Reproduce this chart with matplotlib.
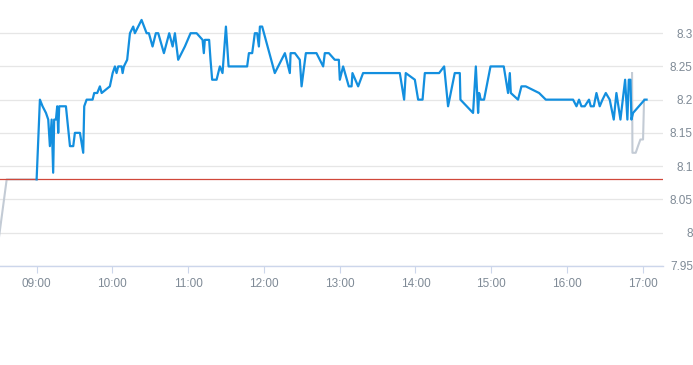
import matplotlib
matplotlib.use("Agg")
from matplotlib import pyplot as plt
from matplotlib import font_manager

# Intraday price, minutes after 09:00
blue_minutes = [0, 2.6, 4.7, 7.4, 9.2, 10.5, 11.9, 13.1, 13.9, 15.3, 16.3, 17.1, 17.9, 23.2, 26.4,
                29.0, 30.3, 34.3, 36.9, 37.7, 39.6, 44.3, 45.6, 48.0, 50.1, 51.5, 58.0, 60.2, 62.0,
                63.3, 64.6, 67.3, 68.1, 69.1, 71.7, 73.9, 76.5, 77.8, 83.1, 87.1, 88.9, 91.8, 94.4,
                96.3, 100.8, 105.0, 107.7, 109.5, 112.1, 117.4, 121.9, 126.7, 131.4, 132.4, 133.2,
                136.6, 137.7, 139.0, 142.5, 145.1, 147.2, 149.9, 152.0, 166.7, 168.1, 170.7, 172.8,
                174.6, 176.0, 176.8, 178.6, 188.6, 196.6, 200.5, 201.1, 204.5, 208.4, 209.8, 213.2,
                221.6, 226.9, 228.2, 231.4, 236.1, 239.3, 240.1, 242.7, 247.2, 249.4, 250.1, 254.6,
                258.5, 287.6, 291.0, 292.3, 299.5, 302.1, 305.6, 307.4, 318.7, 322.7, 325.8, 331.1,
                335.1, 335.6, 345.6, 347.8, 349.6, 350.4, 351.7, 354.3, 359.4, 369.9, 373.3, 374.7,
                375.5, 381.2, 383.9, 387.3, 397.9, 403.2, 424.8, 427.5, 429.5, 431.4, 434.0, 437.4,
                438.8, 441.2, 443.3, 445.9, 448.1, 450.7, 453.8, 457.0, 459.1, 462.3, 466.0, 467.8,
                468.9, 470.2, 471.0, 472.3, 481.5, 483.0]
blue_prices = [8.08, 8.20, 8.19, 8.18, 8.17, 8.13, 8.17, 8.09, 8.17, 8.17, 8.19, 8.15, 8.19, 8.19, 8.13,
               8.13, 8.15, 8.15, 8.12, 8.19, 8.20, 8.20, 8.21, 8.21, 8.22, 8.21, 8.22, 8.24, 8.25,
               8.24, 8.25, 8.25, 8.24, 8.25, 8.26, 8.30, 8.31, 8.30, 8.32, 8.30, 8.30, 8.28, 8.30,
               8.30, 8.27, 8.30, 8.28, 8.30, 8.26, 8.28, 8.30, 8.30, 8.29, 8.27, 8.29,
               8.29, 8.26, 8.23, 8.23, 8.25, 8.24, 8.31, 8.25, 8.25, 8.27, 8.27, 8.30,
               8.30, 8.28, 8.31, 8.31, 8.24, 8.27, 8.24, 8.27, 8.27, 8.26, 8.22, 8.27,
               8.27, 8.25, 8.27, 8.27, 8.26, 8.26, 8.23, 8.25, 8.22, 8.22, 8.24, 8.22,
               8.24, 8.24, 8.20, 8.24, 8.23, 8.20, 8.20, 8.24, 8.24, 8.25, 8.19, 8.24,
               8.24, 8.20, 8.18, 8.25, 8.18, 8.21, 8.20, 8.20, 8.25, 8.25, 8.21, 8.24,
               8.21, 8.20, 8.22, 8.22, 8.21, 8.20, 8.20, 8.19, 8.20, 8.19, 8.19, 8.20,
               8.19, 8.19, 8.21, 8.19, 8.20, 8.21, 8.20, 8.17, 8.21, 8.17, 8.23, 8.17,
               8.23, 8.23, 8.17, 8.18, 8.20, 8.20]

# Pre-open and closing auction segments
pre_minutes = [-30, -23.7, 0]
pre_prices = [7.99, 8.08, 8.08]
post_minutes = [471.5, 471.8, 474.4, 476.2, 478.1, 480.2, 481.0]
post_prices = [8.24, 8.12, 8.12, 8.13, 8.14, 8.14, 8.20]

prev_close = 8.08

y_ticks = [7.95, 8.0, 8.05, 8.1, 8.15, 8.2, 8.25, 8.3]
y_labels = ["7.95", "8", "8.05", "8.1", "8.15", "8.2", "8.25", "8.3"]
x_hours = [9, 10, 11, 12, 13, 14, 15, 16, 17]
x_labels = [f"{h:02d}:00" for h in x_hours]

names = {f.name for f in font_manager.fontManager.ttflist}
family = "Liberation Sans Narrow" if "Liberation Sans Narrow" in names else "Liberation Sans"
plt.rcParams["font.family"] = [family, "DejaVu Sans"]

fig = plt.figure(figsize=(6.93, 3.65), dpi=100)
ax = fig.add_axes([0.0, 0.272, 663 / 693, 0.728])

to_x = lambda mins: [540 + m for m in mins]

ax.plot(to_x(pre_minutes), pre_prices, color="#c3cbd5", lw=1.5, zorder=2)
ax.plot(to_x(post_minutes), post_prices, color="#c3cbd5", lw=1.5, zorder=2)
ax.plot(to_x(blue_minutes), blue_prices, color="#138fdf", lw=1.6, zorder=3)
ax.axhline(prev_close, color="#d0473a", lw=0.9, zorder=2.5)

ax.set_xlim(511, 1036)
ax.set_ylim(7.95, 8.35)

ax.set_yticks(y_ticks)
ax.set_yticklabels(y_labels)
ax.yaxis.tick_right()
ax.tick_params(axis="y", length=0, pad=21.5, labelsize=8.5, labelcolor="#7f8a96")
for lab in ax.get_yticklabels():
    lab.set_horizontalalignment("right")

ax.set_xticks([h * 60 for h in x_hours])
ax.set_xticklabels(x_labels)
ax.tick_params(axis="x", length=5, width=0.8, color="#ccd6eb", pad=4,
               labelsize=8.5, labelcolor="#7f8a96")

ax.grid(axis="y", color="#e6e6e6", lw=0.9)
ax.set_axisbelow(True)
for side in ["top", "left", "right"]:
    ax.spines[side].set_visible(False)
ax.spines["bottom"].set_color("#ccd6eb")
ax.spines["bottom"].set_linewidth(1.0)

fig.savefig("out.png", dpi=100)
